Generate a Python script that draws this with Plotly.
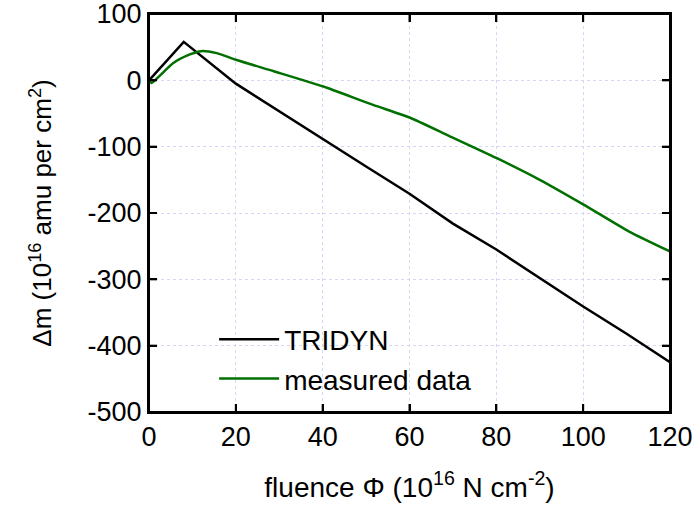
import plotly.graph_objects as go

tridyn_x = [0, 8, 20, 30, 40, 50, 60, 70, 80, 90, 100, 110, 120]
tridyn_y = [0, 58, -5, -47, -89, -130, -171, -216, -255, -298, -341, -382, -425]

meas_x = [0, 0.6, 2.5, 5.6, 9.4, 12, 15.6, 20, 28.6, 40, 51.6, 60, 69.2, 80, 90, 100, 110.6, 120]
meas_y = [0, -4, 7, 26, 39, 44, 41, 31, 14, -9, -37, -56, -84, -117, -150, -187, -228, -258]

x_ticks = [0, 20, 40, 60, 80, 100, 120]
y_ticks = [100, 0, -100, -200, -300, -400, -500]
y_tick_labels = ["100", "0", "-100", "-200", "-300", "-400", "-500"]

FONT = "Liberation Sans, Arial, sans-serif"
TICKLEN = 8

fig = go.Figure()
fig.add_trace(go.Scatter(x=tridyn_x, y=tridyn_y, mode="lines", name="TRIDYN",
                         line=dict(color="black", width=2.5)))
fig.add_trace(go.Scatter(x=meas_x, y=meas_y, mode="lines", name="measured data",
                         line=dict(color="#007000", width=2.5, shape="spline", smoothing=0.6)))

axis_common = dict(
    showline=True, linecolor="black", linewidth=2, mirror="ticks",
    ticks="inside", ticklen=TICKLEN, tickwidth=2, tickcolor="black",
    showgrid=True, gridcolor="#d6d6f5", griddash="dot", gridwidth=1,
    zeroline=False, automargin=False, ticklabeloverflow="allow",
    tickfont=dict(size=27, color="black", family=FONT),
)

fig.update_xaxes(range=[0, 120], tickvals=x_ticks,
                 title=dict(text="fluence Φ (10<sup>16</sup> N cm<sup>-2</sup>)",
                            font=dict(size=28, color="black", family=FONT), standoff=26),
                 **axis_common)
fig.update_yaxes(range=[-500, 100], tickvals=y_ticks, ticktext=y_tick_labels,
                 title=dict(text="Δm (10<sup>16</sup> amu per cm<sup>2</sup>)",
                            font=dict(size=26, color="black", family=FONT), standoff=28),
                 **axis_common)

# frame around the plot area (drawn as four edges)
edge = dict(color="black", width=2)
fig.add_shape(type="line", xref="paper", yref="paper", x0=0, x1=1, y0=1, y1=1,
              line=edge, layer="above")
fig.add_shape(type="line", xref="paper", yref="paper", x0=0, x1=1, y0=0, y1=0,
              line=edge, layer="above")
fig.add_shape(type="line", xref="paper", yref="paper", x0=0, x1=0, y0=0, y1=1,
              line=edge, layer="above")
fig.add_shape(type="line", xref="paper", yref="paper", x0=1, x1=1, y0=0, y1=1,
              line=edge, layer="above")

# inside tick marks on the top and bottom edges, built from the tick list
for xv in x_ticks:
    fig.add_shape(type="line", xref="x", yref="paper", ysizemode="pixel", yanchor=1,
                  x0=xv, x1=xv, y0=0, y1=-TICKLEN, line=edge, layer="above")
    fig.add_shape(type="line", xref="x", yref="paper", ysizemode="pixel", yanchor=0,
                  x0=xv, x1=xv, y0=0, y1=TICKLEN, line=edge, layer="above")
# inside tick marks on the left and right edges
for yv in y_ticks:
    fig.add_shape(type="line", xref="paper", yref="y", xsizemode="pixel", xanchor=0,
                  x0=0, x1=TICKLEN, y0=yv, y1=yv, line=edge, layer="above")
    fig.add_shape(type="line", xref="paper", yref="y", xsizemode="pixel", xanchor=1,
                  x0=0, x1=-TICKLEN, y0=yv, y1=yv, line=edge, layer="above")

fig.update_layout(
    width=697, height=521,
    margin=dict(l=149, r=27, t=14, b=109),
    plot_bgcolor="white", paper_bgcolor="white",
    font=dict(family=FONT, color="black"),
    showlegend=True,
    legend=dict(x=0.125, y=0.245, xanchor="left", yanchor="top",
                bgcolor="rgba(0,0,0,0)", borderwidth=0, itemwidth=60,
                font=dict(size=28, color="black", family=FONT),
                tracegroupgap=0),
)

fig.write_html("out.html", config={"displayModeBar": False})

with open("out.html", "r", encoding="utf-8") as f:
    html = f.read()
html = html.replace("<head>", "<head><style>html,body{margin:0;padding:0;overflow:hidden;}</style>", 1)
with open("out.html", "w", encoding="utf-8") as f:
    f.write(html)
